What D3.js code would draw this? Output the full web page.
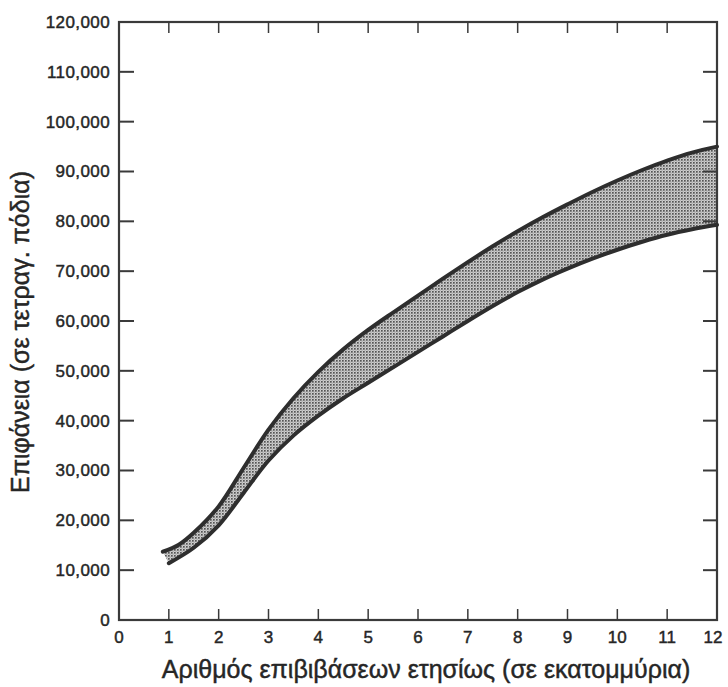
<!DOCTYPE html>
<html>
<head>
<meta charset="utf-8">
<script src="https://cdn.jsdelivr.net/npm/d3@7"></script>
<style>
  html, body { margin: 0; padding: 0; background: #fff; }
  svg { display: block; }
  text { font-family: "Liberation Sans", Arial, Helvetica, sans-serif; fill: #262626; stroke: #262626; stroke-width: 0.45; }
</style>
</head>
<body>
<svg id="chart" width="728" height="687"></svg>
<script>
// Boardings per year (millions) vs. required floor area (thousand sq. ft.)
const upperX = [0.88, 1.2, 1.5, 2.0, 2.5, 3.0, 3.5, 4.0, 4.5, 5.0, 5.5, 6.0, 6.5, 7.0, 7.5, 8.0, 8.5, 9.0, 9.5, 10.0, 10.5, 11.0, 11.5, 12.0];
const upperY = [13.7, 15.1, 17.5, 22.8, 30.5, 38.2, 44.5, 49.8, 54.3, 58.2, 61.7, 65.1, 68.5, 71.8, 75.0, 78.0, 80.8, 83.4, 85.9, 88.2, 90.3, 92.2, 93.8, 95.0];
const lowerX = [1.0, 1.5, 2.0, 2.5, 3.0, 3.5, 4.0, 4.5, 5.0, 5.5, 6.0, 6.5, 7.0, 7.5, 8.0, 8.5, 9.0, 9.5, 10.0, 10.5, 11.0, 11.5, 12.0];
const lowerY = [11.4, 14.5, 19.0, 25.5, 32.0, 37.0, 41.0, 44.5, 47.6, 50.7, 53.8, 56.9, 60.0, 63.0, 65.8, 68.3, 70.5, 72.5, 74.3, 75.9, 77.3, 78.4, 79.3];

const xTicks = [0, 1, 2, 3, 4, 5, 6, 7, 8, 9, 10, 11, 12];
const yTicks = [0, 10000, 20000, 30000, 40000, 50000, 60000, 70000, 80000, 90000, 100000, 110000, 120000];
const xTitle = "Αριθμός επιβιβάσεων ετησίως (σε εκατομμύρια)";
const yTitle = "Επιφάνεια (σε τετραγ. πόδια)";

const svg = d3.select("#chart");
const m = { left: 119, right: 717, top: 22, bottom: 620 };

const x = d3.scaleLinear().domain([0, 12]).range([m.left, m.right]);
const y = d3.scaleLinear().domain([0, 120000]).range([m.bottom, m.top]);

// stipple pattern for the shaded band
const defs = svg.append("defs");
const pat = defs.append("pattern")
  .attr("id", "stipple").attr("patternUnits", "userSpaceOnUse")
  .attr("width", 3).attr("height", 3);
pat.append("rect").attr("width", 3).attr("height", 3).attr("fill", "#cfcfcf");
pat.append("rect").attr("x", 0).attr("y", 0).attr("width", 1.7).attr("height", 1.7).attr("fill", "#555");
pat.append("rect").attr("x", 1.6).attr("y", 1.6).attr("width", 1).attr("height", 1).attr("fill", "#8a8a8a");

const upper = upperX.map((v, i) => [v, upperY[i] * 1000]);
const lower = lowerX.map((v, i) => [v, lowerY[i] * 1000]);

const line = d3.line().x(d => x(d[0])).y(d => y(d[1])).curve(d3.curveCatmullRom.alpha(0.5));

// band polygon: upper curve forward, lower curve backward
const bandPath = line(upper) + "L" + line(lower.slice().reverse()).slice(1) + "Z";
svg.append("path").attr("d", bandPath).attr("fill", "url(#stipple)").attr("stroke", "none");

// frame with inward ticks on all four sides
const frame = svg.append("g").attr("stroke", "#3a3a3a").attr("fill", "none");
frame.append("rect")
  .attr("x", m.left).attr("y", m.top)
  .attr("width", m.right - m.left).attr("height", m.bottom - m.top)
  .attr("stroke-width", 2.2);

const innerX = xTicks.filter(d => d > 0 && d < 12);
const innerY = yTicks.filter(d => d > 0 && d < 120000);

frame.selectAll(".tb").data(innerX).join("line")
  .attr("x1", d => x(d)).attr("x2", d => x(d))
  .attr("y1", m.bottom).attr("y2", m.bottom - 11).attr("stroke-width", 1.5);
frame.selectAll(".tt").data(innerX).join("line")
  .attr("x1", d => x(d)).attr("x2", d => x(d))
  .attr("y1", m.top).attr("y2", m.top + 11).attr("stroke-width", 1.5);
frame.selectAll(".tl").data(innerY).join("line")
  .attr("x1", m.left).attr("x2", m.left + 15)
  .attr("y1", d => y(d)).attr("y2", d => y(d)).attr("stroke-width", 2);
frame.selectAll(".tr").data(innerY).join("line")
  .attr("x1", m.right).attr("x2", m.right - 14)
  .attr("y1", d => y(d)).attr("y2", d => y(d)).attr("stroke-width", 2);

// the two boundary curves
[upper, lower].forEach(s => {
  svg.append("path").attr("d", line(s))
    .attr("fill", "none").attr("stroke", "#2e2e2e")
    .attr("stroke-width", 4).attr("stroke-linecap", "round");
});

// tick labels
const fmt = d3.format(",");
svg.append("g").selectAll("text").data(yTicks).join("text")
  .attr("x", 110).attr("y", d => y(d)).attr("dy", "0.35em")
  .attr("text-anchor", "end").attr("font-size", 17).attr("letter-spacing", 0.4)
  .text(d => fmt(d));

svg.append("g").selectAll("text").data(xTicks).join("text")
  .attr("x", d => d === 12 ? x(d) - 4 : x(d)).attr("y", 643)
  .attr("text-anchor", "middle").attr("font-size", 17)
  .text(d => d);

// axis titles
svg.append("text")
  .attr("x", 426).attr("y", 678)
  .attr("text-anchor", "middle").attr("font-size", 25)
  .text(xTitle);

svg.append("text")
  .attr("transform", "translate(29,332) rotate(-90)")
  .attr("text-anchor", "middle").attr("font-size", 25)
  .text(yTitle);
</script>
</body>
</html>
